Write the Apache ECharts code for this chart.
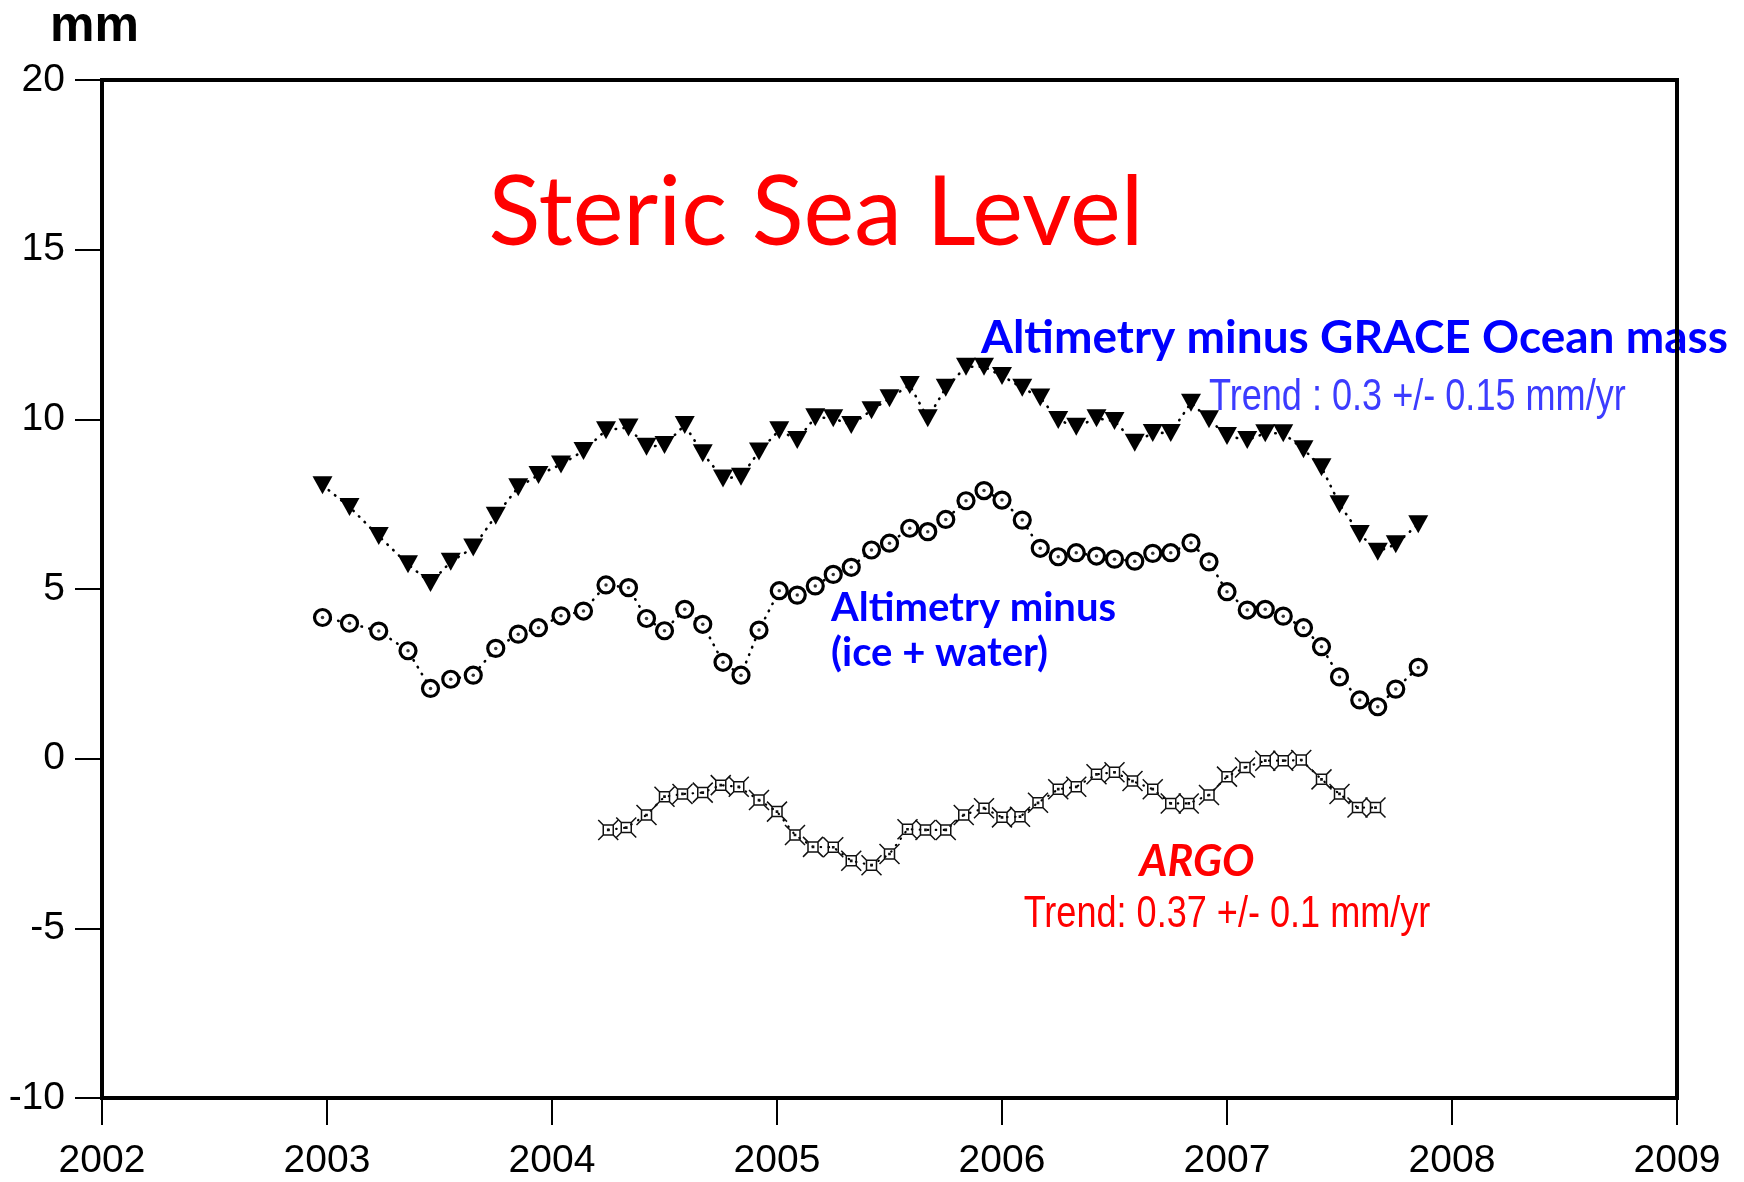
<!DOCTYPE html>
<html>
<head>
<meta charset="utf-8">
<title>Steric Sea Level</title>
<script src="https://cdn.jsdelivr.net/npm/echarts@6/dist/echarts.min.js"></script>
<style>
  html, body { margin: 0; padding: 0; background: #ffffff; }
  #chart { width: 1744px; height: 1182px; }
</style>
</head>
<body>
<div id="chart"></div>
<script>
// Sampling times (decimal years) shared by the two altimetry-based curves
const months = [
  2002.98, 2003.10, 2003.23, 2003.36, 2003.46, 2003.55, 2003.65, 2003.75, 2003.85, 2003.94, 2004.04, 2004.14,
  2004.24, 2004.34, 2004.42, 2004.50, 2004.59, 2004.67, 2004.76, 2004.84, 2004.92, 2005.01, 2005.09, 2005.17,
  2005.25, 2005.33, 2005.42, 2005.50, 2005.59, 2005.67, 2005.75, 2005.84, 2005.92, 2006.00, 2006.09, 2006.17,
  2006.25, 2006.33, 2006.42, 2006.50, 2006.59, 2006.67, 2006.75, 2006.84, 2006.92, 2007.00, 2007.09, 2007.17,
  2007.25, 2007.34, 2007.42, 2007.50, 2007.59, 2007.67, 2007.75, 2007.85
];

// Altimetry minus GRACE ocean mass (mm)
const graceSteric = [
  8.06, 7.42, 6.56, 5.73, 5.18, 5.80, 6.22, 7.16, 8.00, 8.36, 8.67, 9.07,
  9.68, 9.76, 9.19, 9.24, 9.83, 9.00, 8.26, 8.31, 9.05, 9.68, 9.39, 10.06,
  10.03, 9.83, 10.27, 10.62, 11.01, 10.03, 10.93, 11.55, 11.55, 11.28, 10.93, 10.64,
  9.98, 9.78, 10.03, 9.95, 9.31, 9.60, 9.60, 10.49, 10.00, 9.51, 9.39, 9.59,
  9.59, 9.12, 8.59, 7.50, 6.62, 6.10, 6.32, 6.91
];

// Altimetry minus (ice + water) (mm)
const iceWaterSteric = [
  4.16, 3.99, 3.76, 3.18, 2.07, 2.34, 2.46, 3.25, 3.67, 3.86, 4.21, 4.35,
  5.12, 5.04, 4.13, 3.77, 4.40, 3.96, 2.84, 2.46, 3.79, 4.95, 4.82, 5.09,
  5.43, 5.64, 6.15, 6.35, 6.79, 6.69, 7.05, 7.60, 7.90, 7.62, 7.03, 6.20,
  5.95, 6.07, 5.97, 5.88, 5.82, 6.05, 6.07, 6.36, 5.80, 4.92, 4.38, 4.40,
  4.20, 3.86, 3.30, 2.41, 1.73, 1.53, 2.05, 2.69
];

// ARGO sampling times and steric sea level (mm)
const argoTimes = [
  2004.25, 2004.33, 2004.42, 2004.50, 2004.58, 2004.67, 2004.75, 2004.83, 2004.92, 2005.00, 2005.08, 2005.16,
  2005.25, 2005.33, 2005.42, 2005.50, 2005.58, 2005.66, 2005.75, 2005.83, 2005.92, 2006.00, 2006.08, 2006.16,
  2006.25, 2006.33, 2006.42, 2006.50, 2006.58, 2006.67, 2006.75, 2006.83, 2006.92, 2007.00, 2007.08, 2007.17,
  2007.25, 2007.33, 2007.42, 2007.50, 2007.58, 2007.66
];
const argoSteric = [
  -2.10, -2.03, -1.66, -1.12, -1.04, -1.00, -0.78, -0.83, -1.22, -1.56, -2.25, -2.60,
  -2.61, -3.01, -3.14, -2.81, -2.08, -2.10, -2.10, -1.66, -1.46, -1.73, -1.71, -1.30,
  -0.90, -0.83, -0.46, -0.40, -0.66, -0.90, -1.32, -1.32, -1.07, -0.53, -0.26, -0.06,
  -0.06, -0.04, -0.61, -1.04, -1.44, -1.44
];

const pairs = (xs, ys) => xs.map((x, i) => [x, ys[i]]);

const dottedLine = { color: '#000', width: 2.6, type: [0.5, 7.5], cap: 'round' };
const comic = 'Lato, "Open Sans", sans-serif';
const helv = '"Liberation Sans", Arial, sans-serif';

// square with spiked corners and a centre dot
const argoSymbol = 'path://M7 7L17 7L17 17L7 17Z M7 7L2 2 M17 7L22 2 M17 17L22 22 M7 17L2 22 M11.4 11.4L12.6 11.4L12.6 12.6L11.4 12.6Z';

// text helper; condensed lettering is drawn by squeezing the text horizontally
function label(text, x, y, font, fill, align, sx, z) {
  return {
    type: 'text', x: x, y: y, scaleX: sx || 1, z: z == null ? 10 : z,
    style: { text: text, x: 0, y: 0, font: font, fill: fill,
             textAlign: align, textVerticalAlign: 'middle', align: align, verticalAlign: 'middle' }
  };
}

const chart = echarts.init(document.getElementById('chart'), null, { renderer: 'canvas' });

chart.setOption({
  backgroundColor: '#ffffff',
  animation: false,
  grid: {
    left: 102, right: 67, top: 80, bottom: 84,
    show: true, borderColor: '#000', borderWidth: 4, backgroundColor: 'transparent', z: 3
  },
  xAxis: {
    type: 'value', min: 2002, max: 2009, interval: 1,
    axisLine: { show: true, onZero: false, lineStyle: { color: '#000', width: 4 } },
    axisTick: { show: true, inside: false, length: 27, lineStyle: { color: '#000', width: 2 } },
    axisLabel: { color: '#000', fontSize: 39, fontFamily: helv, margin: 44, formatter: v => String(v) },
    splitLine: { show: false }
  },
  yAxis: {
    type: 'value', min: -10, max: 20, interval: 5,
    axisLine: { show: true, onZero: false, lineStyle: { color: '#000', width: 4 } },
    axisTick: { show: true, inside: false, length: 27, lineStyle: { color: '#000', width: 2 } },
    axisLabel: { color: '#000', fontSize: 39, fontFamily: helv, margin: 37 },
    splitLine: { show: false }
  },
  series: [
    {
      name: 'Altimetry minus GRACE Ocean mass',
      type: 'line',
      data: pairs(months, graceSteric),
      symbol: 'triangle', symbolRotate: 180, symbolSize: [20, 18],
      itemStyle: { color: '#000' },
      lineStyle: dottedLine,
      z: 4
    },
    {
      name: 'Altimetry minus (ice + water)',
      type: 'line',
      data: pairs(months, iceWaterSteric),
      symbol: 'circle', symbolSize: 16,
      itemStyle: { color: '#fff', borderColor: '#000', borderWidth: 3.2 },
      lineStyle: dottedLine,
      z: 4
    },
    {
      name: 'Altimetry minus (ice + water) centre',
      type: 'scatter',
      data: pairs(months, iceWaterSteric),
      symbol: 'circle', symbolSize: 3.5,
      itemStyle: { color: '#000' },
      silent: true,
      z: 5
    },
    {
      name: 'ARGO',
      type: 'line',
      data: pairs(argoTimes, argoSteric),
      symbol: argoSymbol, symbolSize: 20, symbolKeepAspect: true,
      itemStyle: { color: 'rgba(255,255,255,0)', borderColor: '#111', borderWidth: 1.5 },
      lineStyle: Object.assign({}, dottedLine, { width: 2.2 }),
      z: 4
    }
  ],
  graphic: [
    label('mm', 50, 27, 'bold 50px ' + helv, '#000', 'left'),
    label('Steric Sea Level', 816, 214, '96px ' + comic, '#ff0000', 'center'),
    label('Altimetry minus GRACE Ocean mass', 981, 338, 'bold 46px ' + comic, '#0000ff', 'left', 1, 1),
    label('Trend : 0.3 +/- 0.15 mm/yr', 1209, 398, '44px ' + helv, '#3c3cff', 'left', 0.82),
    label('Altimetry minus', 831, 608, 'bold 40px ' + comic, '#0000ff', 'left'),
    label('(ice + water)', 831, 653, 'bold 40px ' + comic, '#0000ff', 'left'),
    label('ARGO', 1197, 862, 'italic bold 43px ' + comic, '#ff0000', 'center'),
    label('Trend: 0.37 +/- 0.1 mm/yr', 1227, 915, '44px ' + helv, '#ff0000', 'center', 0.82)
  ]
});
</script>
</body>
</html>
